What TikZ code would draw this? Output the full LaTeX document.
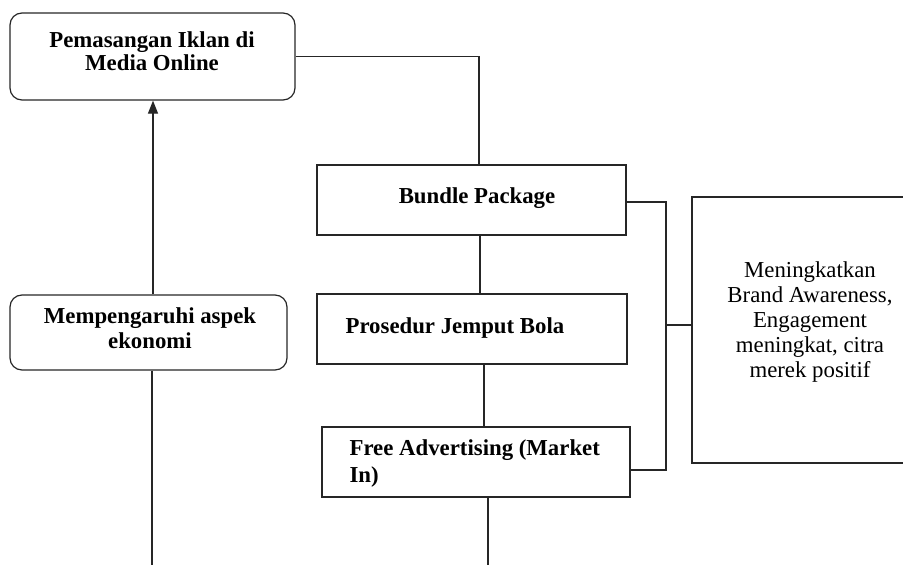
\documentclass[tikz,border=0pt]{standalone}
\usepackage{fontspec}
\setmainfont{Liberation Serif}
\usetikzlibrary{arrows.meta}
\newcommand{\diagfont}{\fontsize{22.8}{25}\selectfont}
\newcommand{\tightfont}{\fontsize{22.8}{23.3}\selectfont}
\begin{document}
\begin{tikzpicture}[x=1pt,y=-1pt,
  line width=1.2pt,
  box/.style={draw=black!85,rectangle,minimum width=#1},
  roundbox/.style={draw=black!85,rectangle,rounded corners=12pt},
  lbl/.style={inner sep=0pt,anchor=base,font=\diagfont},
  link/.style={draw=black!85}]
\useasboundingbox (0,0) rectangle (903,565);
\clip (0,0) rectangle (903,565);

% boxes
\node[roundbox,minimum width=285pt,minimum height=87pt] (media) at (152.5,56.5) {};
\node[roundbox,minimum width=277pt,minimum height=75pt] (ekonomi) at (148.5,332.5) {};
\node[box=309pt,minimum height=70pt] (bundle) at (471.5,200) {};
\node[box=310pt,minimum height=70pt] (jemput) at (472,329) {};
\node[box=308pt,minimum height=70pt] (free) at (476,462) {};
\node[box=240pt,minimum height=266pt] (hasil) at (812,330) {};

% texts
\node[lbl,font=\tightfont] (tmedia) at (152,47) {\begin{tabular}[t]{@{}c@{}}\bfseries Pemasangan Iklan di\\ \bfseries Media Online\end{tabular}};
\node[lbl] (tekonomi) at (150,323) {\begin{tabular}[t]{@{}c@{}}\bfseries Mempengaruhi aspek\\ \bfseries ekonomi\end{tabular}};
\node[lbl] (tbundle) at (477,203) {\bfseries Bundle Package};
\node[lbl,anchor=base west] (tjemput) at (345,333) {\bfseries Prosedur Jemput Bola};
\node[lbl,anchor=base west,font=\fontsize{22.8}{27}\selectfont] (tfree) at (349,455) {\begin{tabular}[t]{@{}l@{}}\bfseries Free Advertising (Market\\ \bfseries In)\end{tabular}};
\node[lbl] (thasil) at (810,277) {\begin{tabular}[t]{@{}c@{}}Meningkatkan\\ Brand Awareness,\\ Engagement\\ meningkat, citra\\ merek positif\end{tabular}};

% connectors
\coordinate (jx) at (666,0);
\coordinate (endleft) at (152,565);
\coordinate (endmid) at (488,565);

\draw[link] (media.east) -| ([xshift=7.5pt]bundle.north);
\draw[link] ([xshift=8.5pt]bundle.south) -- ([xshift=8.5pt]bundle.south |- jemput.north);
\draw[link] ([xshift=12pt]jemput.south) -- ([xshift=12pt]jemput.south |- free.north);
\draw[link] ([xshift=12pt]free.south) -- (endmid);

\draw[link] ([yshift=-2pt]bundle.east) -- ([yshift=-2pt]bundle.east -| jx)
  -- ([yshift=-8pt]free.east -| jx) -- ([yshift=-8pt]free.east);
\draw[link] ([yshift=5pt]hasil.west -| jx) -- ([yshift=5pt]hasil.west);

\draw[link,-{Triangle[length=13pt,width=10pt]}] ([xshift=4.5pt]ekonomi.north) -- ([xshift=4.5pt]ekonomi.north |- media.south);
\draw[link] (ekonomi.south -| endleft) -- (endleft);
\end{tikzpicture}
\end{document}
